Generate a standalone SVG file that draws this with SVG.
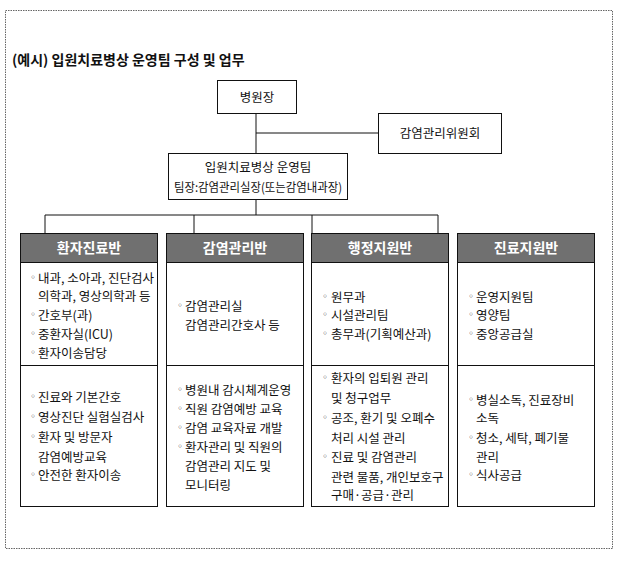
<svg xmlns="http://www.w3.org/2000/svg" width="620" height="561" viewBox="0 0 620 561">
<style>
text{font-family:"Noto Sans CJK KR","Noto Sans",sans-serif;font-size:12.5px;fill:#111}
.b{fill:#fff;stroke:#111;stroke-width:1}
.h{fill:#707070;stroke:#111;stroke-width:1}
.ht{fill:#fff;font-weight:bold;font-size:14px;text-anchor:middle}
.c{text-anchor:middle}
.u{fill:#555;font-size:10px}
.ln{stroke:#111;stroke-width:1;fill:none}
</style>
<rect x="5.5" y="10.5" width="607" height="538" fill="#fff" stroke="#666" stroke-dasharray="1.5,1"/>
<text x="12" y="65" style="font-size:14px;font-weight:bold">(예시) 입원치료병상 운영팀 구성 및 업무</text>
<g id="connectors" class="ln">
<path d="M256 113V153M256 133H378M256 199V215M45 215H438M45 215V233M194 215V233M312 215V233M438 215V233"/>
</g>
<g id="n1"><rect class="b" x="217.5" y="80.5" width="79" height="33"/><text class="c" x="257" y="102">병원장</text></g>
<g id="n2"><rect class="b" x="378.5" y="113.5" width="123" height="40"/><text class="c" x="440" y="138">감염관리위원회</text></g>
<g id="n3"><rect class="b" x="168.5" y="153.5" width="179" height="46"/><text class="c" x="258" y="172">입원치료병상 운영팀</text><text class="c" x="258" y="192" textLength="168" lengthAdjust="spacingAndGlyphs">팀장:감염관리실장(또는감염내과장)</text></g>
<g id="c1"><rect class="b" x="20.5" y="233.5" width="137" height="273"/><rect class="h" x="20.5" y="233.5" width="137" height="29"/><text class="ht" x="89" y="253">환자진료반</text><line class="ln" x1="20" y1="365.5" x2="158" y2="365.5"/>
<g><text class="u" x="28" y="281">◦</text><text x="38" y="283">내과, 소아과, 진단검사</text><text x="38" y="301">의학과, 영상의학과 등</text><text class="u" x="28" y="318">◦</text><text x="38" y="320">간호부(과)</text><text class="u" x="28" y="337">◦</text><text x="38" y="339">중환자실(ICU)</text><text class="u" x="28" y="356">◦</text><text x="38" y="358">환자이송담당</text></g>
<g><text class="u" x="28" y="400">◦</text><text x="38" y="402">진료와 기본간호</text><text class="u" x="28" y="420">◦</text><text x="38" y="422">영상진단 실험실검사</text><text class="u" x="28" y="440">◦</text><text x="38" y="442">환자 및 방문자</text><text x="38" y="462">감염예방교육</text><text class="u" x="28" y="478">◦</text><text x="38" y="480">안전한 환자이송</text></g></g>
<g id="c2"><rect class="b" x="166.5" y="233.5" width="137" height="273"/><rect class="h" x="166.5" y="233.5" width="137" height="29"/><text class="ht" x="235" y="253">감염관리반</text><line class="ln" x1="166" y1="365.5" x2="304" y2="365.5"/>
<g><text class="u" x="175" y="309">◦</text><text x="185" y="311">감염관리실</text><text x="185" y="330">감염관리간호사 등</text></g>
<g><text class="u" x="175" y="393">◦</text><text x="185" y="395">병원내 감시체계운영</text><text class="u" x="175" y="412">◦</text><text x="185" y="414">직원 감염예방 교육</text><text class="u" x="175" y="431">◦</text><text x="185" y="433">감염 교육자료 개발</text><text class="u" x="175" y="450">◦</text><text x="185" y="452">환자관리 및 직원의</text><text x="185" y="471">감염관리 지도 및</text><text x="185" y="490">모니터링</text></g></g>
<g id="c3"><rect class="b" x="311.5" y="233.5" width="137" height="273"/><rect class="h" x="311.5" y="233.5" width="137" height="29"/><text class="ht" x="380" y="253">행정지원반</text><line class="ln" x1="311" y1="365.5" x2="449" y2="365.5"/>
<g><text class="u" x="320" y="300">◦</text><text x="331" y="302">원무과</text><text class="u" x="320" y="318">◦</text><text x="331" y="320">시설관리팀</text><text class="u" x="320" y="337">◦</text><text x="331" y="339">총무과(기획예산과)</text></g>
<g><text class="u" x="320" y="381">◦</text><text x="331" y="383">환자의 입퇴원 관리</text><text x="331" y="403">및 청구업무</text><text class="u" x="320" y="421">◦</text><text x="331" y="423">공조, 환기 및 오폐수</text><text x="331" y="443">처리 시설 관리</text><text class="u" x="320" y="460">◦</text><text x="331" y="462">진료 및 감염관리</text><text x="331" y="482">관련 물품, 개인보호구</text><text x="331" y="500">구매·공급·관리</text></g></g>
<g id="c4"><rect class="b" x="457.5" y="233.5" width="137" height="273"/><rect class="h" x="457.5" y="233.5" width="137" height="29"/><text class="ht" x="526" y="253">진료지원반</text><line class="ln" x1="457" y1="365.5" x2="595" y2="365.5"/>
<g><text class="u" x="466" y="300">◦</text><text x="476" y="302">운영지원팀</text><text class="u" x="466" y="318">◦</text><text x="476" y="320">영양팀</text><text class="u" x="466" y="337">◦</text><text x="476" y="339">중앙공급실</text></g>
<g><text class="u" x="466" y="403">◦</text><text x="476" y="405">병실소독, 진료장비</text><text x="476" y="423">소독</text><text class="u" x="466" y="441">◦</text><text x="476" y="443">청소, 세탁, 폐기물</text><text x="476" y="462">관리</text><text class="u" x="466" y="478">◦</text><text x="476" y="480">식사공급</text></g></g>
</svg>
